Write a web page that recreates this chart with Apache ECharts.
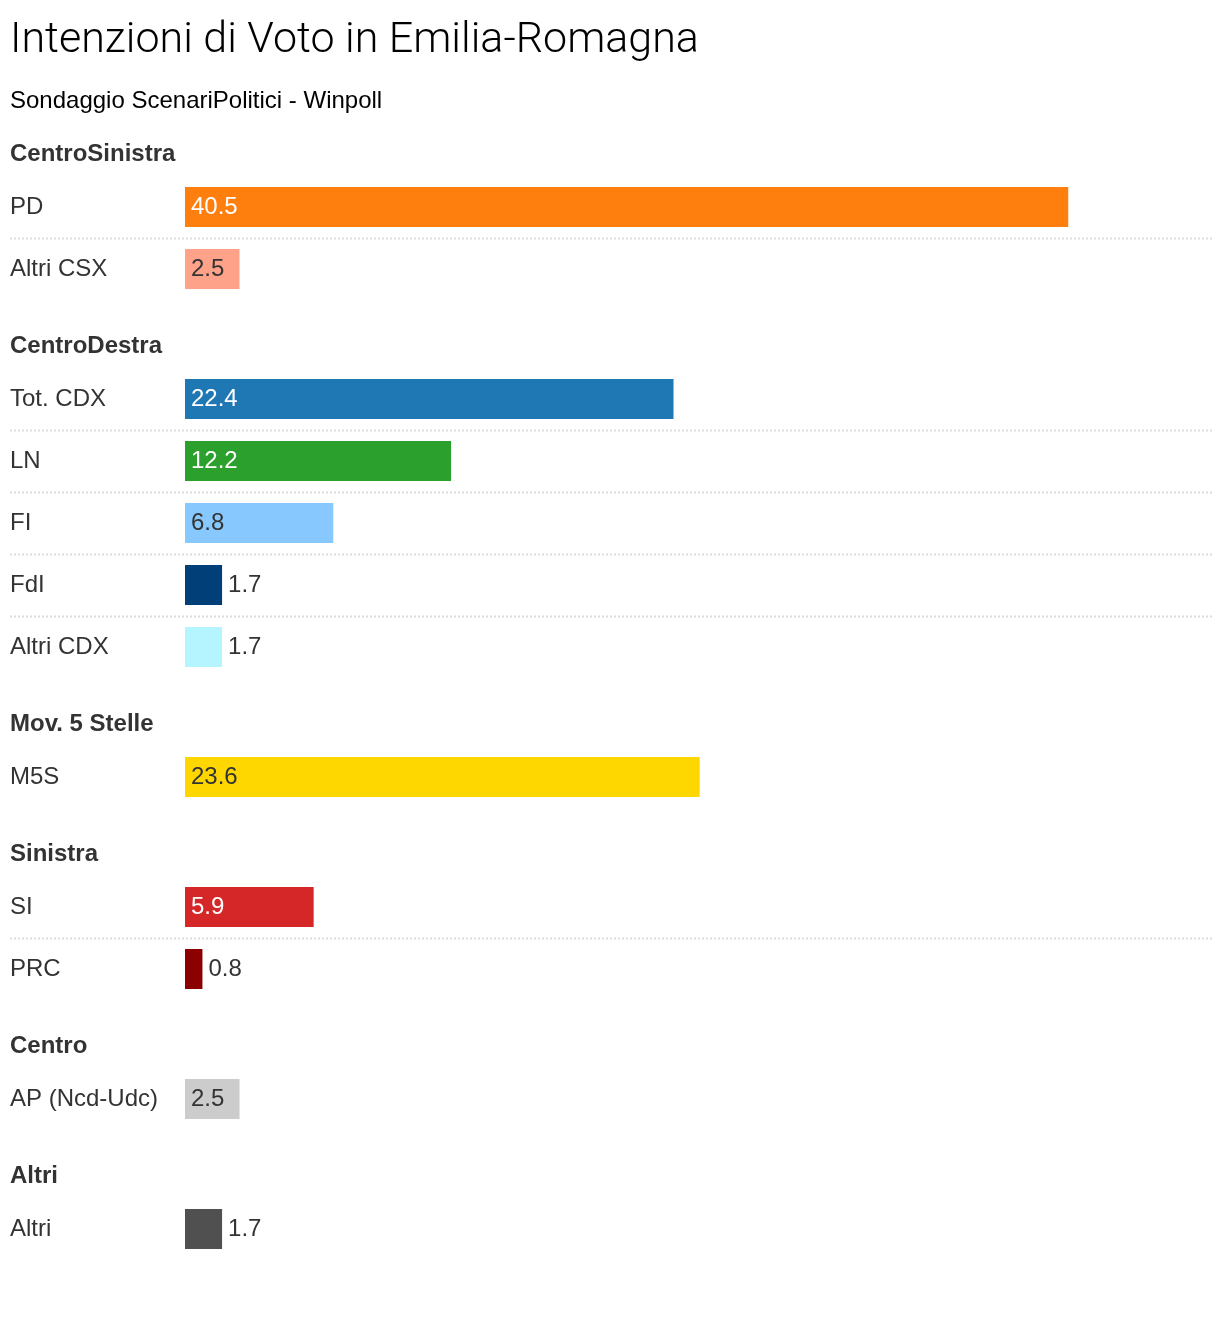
<!DOCTYPE html>
<html>
<head>
<meta charset="utf-8">
<script src="https://cdn.jsdelivr.net/npm/echarts@6/dist/echarts.min.js"></script>
<style>
html,body{margin:0;padding:0;background:#fff;}
#chart{width:1221px;height:1341px;}
</style>
</head>
<body>
<div id="chart"></div>
<script>
// ---- DATA ----
const titleText = 'Intenzioni di Voto in Emilia-Romagna';
const subtitleText = 'Sondaggio ScenariPolitici - Winpoll';
const groupNames = ['CentroSinistra', 'CentroDestra', 'Mov. 5 Stelle', 'Sinistra', 'Centro', 'Altri'];
const csxParties = ['PD', 'Altri CSX'];
const csxValues = [40.5, 2.5];
const cdxParties = ['Tot. CDX', 'LN', 'FI', 'FdI', 'Altri CDX'];
const cdxValues = [22.4, 12.2, 6.8, 1.7, 1.7];
const m5sParties = ['M5S'];
const m5sValues = [23.6];
const sinParties = ['SI', 'PRC'];
const sinValues = [5.9, 0.8];
const cenParties = ['AP (Ncd-Udc)'];
const cenValues = [2.5];
const altParties = ['Altri'];
const altValues = [1.7];

// ---- STYLE ----
const barColors = {
  'PD': '#ff7f0e', 'Altri CSX': '#ffa28a',
  'Tot. CDX': '#1f77b4', 'LN': '#2ca02c', 'FI': '#87c9ff', 'FdI': '#003f77', 'Altri CDX': '#b5f5ff',
  'M5S': '#ffd700', 'SI': '#d62728', 'PRC': '#8b0000',
  'AP (Ncd-Udc)': '#cccccc', 'Altri': '#505050'
};
const lightBars = ['Altri CSX', 'FI', 'AP (Ncd-Udc)', 'M5S', 'Altri CDX'];
const groups = [
  [csxParties, csxValues], [cdxParties, cdxValues], [m5sParties, m5sValues],
  [sinParties, sinValues], [cenParties, cenValues], [altParties, altValues]
];
const ROW = 62, GAP = 68, FIRST_TOP = 176, LEFT = 185, RIGHT = 11, XMAX = 47;
const FONT = '"Liberation Sans", Arial, sans-serif';
const TITLE_FONT = 'Roboto, "Liberation Sans", sans-serif';

const chart = echarts.init(document.getElementById('chart'), null, {renderer: 'canvas'});

const grids = [], xAxes = [], yAxes = [], series = [];
const titles = [
  {text: titleText, left: 10, top: 20, padding: 0, textStyle: {fontFamily: TITLE_FONT, fontWeight: 300, fontSize: 43, color: '#000'}},
  {text: subtitleText, left: 10, top: 89, padding: 0, textStyle: {fontFamily: FONT, fontWeight: 400, fontSize: 24, color: '#000'}}
];
let curTop = FIRST_TOP;
groups.forEach(function (g, i) {
  const parties = g[0], values = g[1];
  const h = parties.length * ROW;
  grids.push({left: LEFT, right: RIGHT, top: curTop, height: h, containLabel: false});
  titles.push({text: groupNames[i], left: 10, top: curTop - 34, padding: 0,
    textStyle: {fontFamily: FONT, fontWeight: 'bold', fontSize: 24, color: '#333'}});
  xAxes.push({type: 'value', gridIndex: i, min: 0, max: XMAX, show: false});
  yAxes.push({type: 'category', gridIndex: i, data: parties, inverse: true,
    axisLine: {show: false}, axisTick: {show: false}, splitLine: {show: false},
    axisLabel: {align: 'left', margin: LEFT - 10, fontFamily: FONT, fontSize: 24, color: '#333', padding: [6, 0, 0, 0]}});
  series.push({
    type: 'bar', xAxisIndex: i, yAxisIndex: i, barWidth: 40, silent: true,
    data: values.map(function (v, k) {
      const name = parties[k];
      const inside = v >= 2;
      return {
        value: v,
        itemStyle: {color: barColors[name]},
        label: {
          show: true,
          position: inside ? 'insideLeft' : 'right',
          distance: 6,
          padding: [6, 0, 0, 0],
          fontFamily: FONT, fontSize: 24,
          color: inside ? (lightBars.indexOf(name) >= 0 ? '#333' : '#fff') : '#333',
          formatter: function (p) { return p.value.toFixed(1); }
        }
      };
    })
  });
  curTop += h + GAP;
});

chart.setOption({
  animation: false,
  backgroundColor: '#fff',
  title: titles,
  grid: grids,
  xAxis: xAxes,
  yAxis: yAxes,
  series: series
});

// dotted separators between rows inside each group
const chartWidth = chart.getWidth();
const lines = [];
groups.forEach(function (g, i) {
  const parties = g[0];
  for (let k = 0; k < parties.length - 1; k++) {
    const y1 = chart.convertToPixel({yAxisIndex: i}, parties[k]);
    const y2 = chart.convertToPixel({yAxisIndex: i}, parties[k + 1]);
    const y = Math.round((y1 + y2) / 2) + 0.5;
    lines.push({type: 'line', z: -1, silent: true,
      shape: {x1: 10, y1: y, x2: chartWidth - 9, y2: y},
      style: {stroke: '#dddddd', lineWidth: 2, lineDash: [2, 2]}});
  }
});
chart.setOption({graphic: lines});
</script>
</body>
</html>
